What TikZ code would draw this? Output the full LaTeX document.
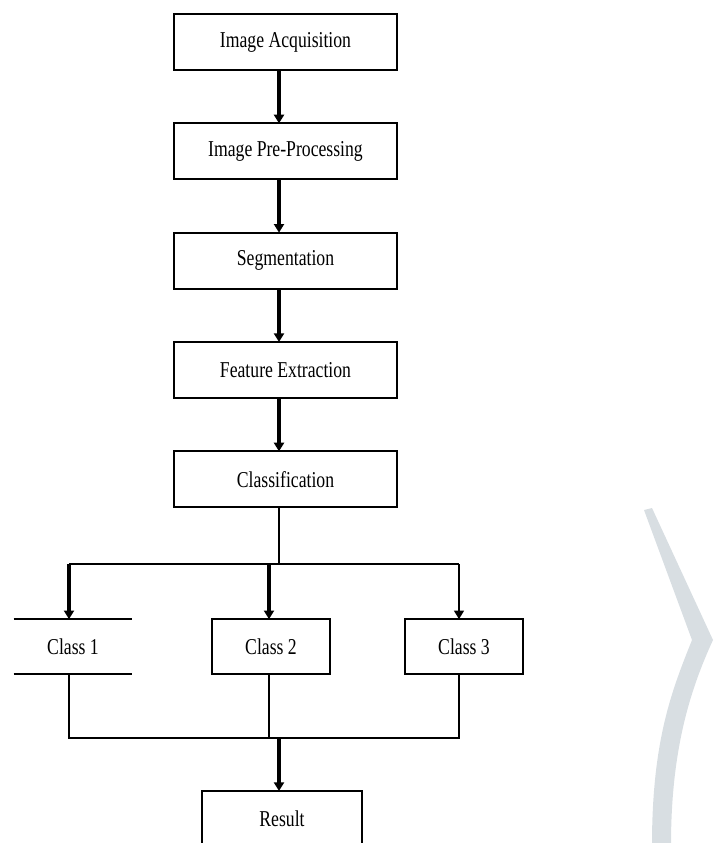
\documentclass[tikz,border=0pt]{standalone}
\usepackage{fontspec}
\setmainfont{Liberation Serif}
\newfontfamily\flowfont[FakeStretch=0.78]{Liberation Serif}
\usetikzlibrary{positioning,arrows.meta}
\definecolor{markgray}{RGB}{216,222,226}
\tikzset{
	procbox/.style={draw, line width=1.3pt, inner sep=0pt, outer sep=0pt,
		minimum width=167pt, minimum height=42pt,
		font=\flowfont\fontsize{17}{20}\selectfont},
	classbox/.style={procbox, minimum width=89pt, minimum height=41pt},
	thinline/.style={line width=1.3pt},
	flowarrow/.style={line width=3pt, -{Triangle[length=6.5pt,width=7.5pt]}},
	thinarrow/.style={line width=1.3pt, -{Triangle[length=6.5pt,width=7.5pt]}}
}

\begin{document}
\begin{tikzpicture}[x=0.75pt, y=-0.75pt, node distance=40pt]
	\useasboundingbox (0,0) rectangle (714,843);
	\clip (0,0) rectangle (714,843);
	% faint mark at the right edge
	\fill[markgray] (644,510) -- (692,640)
		.. controls (672,690) and (652,740) .. (652,845) -- (671,845)
		.. controls (671,750) and (690,690) .. (713,640) -- (652,508) -- cycle;
	% main chain
	\node[procbox] (acq) at (285.5,42) {Image Acquisition};
	\node[procbox, below=of acq] (prep) {Image Pre-Processing};
	\node[procbox, below=of prep] (seg) {Segmentation};
	\node[procbox, below=of seg] (feat) {Feature Extraction};
	\node[procbox, below=of feat] (cls) {Classification};
	\coordinate (spine) at (279,0);
	\foreach \a/\b in {acq/prep, prep/seg, seg/feat, feat/cls}
		\draw[flowarrow] (\a.south -| spine) -- (\b.north -| spine);
	% classes
	\node[classbox, draw=none] (c1) at (73,646.5) {Class 1};
	\node[classbox] (c2) at (271,646.5) {Class 2};
	\node[classbox] (c3) at (464,646.5) {Class 3};
	\draw[thinline] (c1.north west) -- (c1.north east);
	\draw[thinline] (c1.south west) -- (c1.south east);
	\coordinate (busL) at (69,564);
	\coordinate (bus2) at (269,564);
	\coordinate (busR) at (459,564);
	\draw[thinline] (cls.south -| spine) -- (spine |- busL);
	\draw[thinline] (busL) -- (busR);
	\draw[flowarrow] (busL) -- (busL |- c1.north);
	\draw[flowarrow] (bus2) -- (bus2 |- c2.north);
	\draw[thinarrow] (busR) -- (busR |- c3.north);
	% result
	\node[procbox, minimum width=120pt] (res) at (282,819) {Result};
	\coordinate (lowL) at (69,738);
	\coordinate (low2) at (269,738);
	\coordinate (lowR) at (459,738);
	\coordinate (lowM) at (279,738);
	\draw[thinline] (c1.south -| lowL) -- (lowL) -- (lowR) -- (c3.south -| lowR);
	\draw[thinline] (c2.south -| low2) -- (low2);
	\draw[flowarrow] (lowM) -- (res.north -| lowM);
\end{tikzpicture}
\end{document}
